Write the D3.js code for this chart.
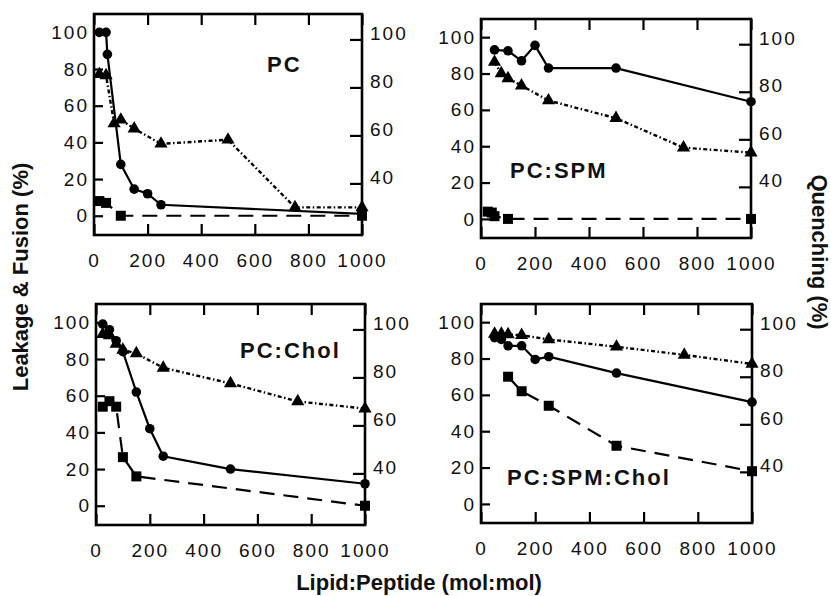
<!DOCTYPE html>
<html>
<head>
<meta charset="utf-8">
<script src="https://cdn.jsdelivr.net/npm/d3@7"></script>
<style>
    body { margin: 0; background: #fff; }
</style>
</head>
<body>
<div id="charts"></div>
<script>
// data, one entry per panel
let panelNames = ["PC", "PC:SPM", "PC:Chol", "PC:SPM:Chol"];

// leakage (circles, left axis)
let leakX = [
    [20, 45, 50, 100, 150, 200, 250, 1000],
    [50, 100, 150, 200, 250, 500, 1000],
    [25, 50, 75, 100, 150, 200, 250, 500, 1000],
    [50, 75, 100, 150, 200, 250, 500, 1000]
];
let leakY = [
    [100, 100, 88, 28, 14.5, 12, 6, 1],
    [93, 92.5, 87, 95.5, 83, 83, 64.5],
    [99, 96, 90, 84, 62, 42, 27, 20, 12],
    [91.5, 90.5, 87, 87, 79.5, 81, 72, 56]
];

// quenching (triangles, right axis)
let quenchX = [
    [20, 45, 75, 100, 150, 250, 500, 750, 1000],
    [50, 75, 100, 150, 250, 500, 750, 1000],
    [25, 50, 75, 100, 150, 250, 500, 750, 1000],
    [50, 75, 100, 150, 250, 500, 750, 1000]
];
let quenchY = [
    [85.5, 85, 65, 66.5, 62.8, 56.5, 58.2, 30, 30],
    [92.5, 87.7, 85.6, 82.6, 76.3, 68.9, 56.5, 54.4],
    [98, 97.5, 94, 91.5, 90, 84, 77.5, 70, 67],
    [98, 98, 97.8, 97.5, 95.7, 92.6, 89.2, 85.4]
];

// fusion (squares, left axis)
let fusionX = [
    [20, 45, 100, 1000],
    [25, 40, 50, 100, 1000],
    [25, 50, 75, 100, 150, 1000],
    [100, 150, 250, 500, 1000]
];
let fusionY = [
    [8, 7, 0, 0],
    [4, 3.5, 1.5, 0, 0],
    [54, 57, 54, 26.5, 16, 0],
    [70, 62, 54, 32, 18]
];

let xTicks = [0, 200, 400, 600, 800, 1000];
let leftTicks = [0, 20, 40, 60, 80, 100];
let rightTicks = [40, 60, 80, 100];

// frame of each panel: left, right, top, bottom, and where its name goes
let frames = [
    { l: 94, r: 362, t: 14, b: 235, nx: 267, ny: 72 },
    { l: 481, r: 751, t: 19, b: 238, nx: 510, ny: 178 },
    { l: 96, r: 365, t: 304, b: 525, nx: 240, ny: 358 },
    { l: 481, r: 752, t: 304, b: 523, nx: 507, ny: 485 }
];

let w = 831;
let h = 596;

let viz = d3.select("#charts")
    .append("svg")
    .attr("width", w)
    .attr("height", h)
    .style("display", "block");

let tickFont = "'Liberation Sans', Arial, sans-serif";

for (let i = 0; i < 4; i++) {
    drawPanel(i);
}

function drawPanel(i) {
    let f = frames[i];
    let g = viz.append("g");

    let xScale = d3.scaleLinear().domain([0, 1000]).range([f.l, f.r]);
    let yLeft = d3.scaleLinear().domain([-10.5, 110]).range([f.b, f.t]);
    let yRight = d3.scaleLinear().domain([18.5, 110.6]).range([f.b, f.t]);

    // axes, ticks point inward
    let bottom = g.append("g")
        .attr("transform", "translate(0," + f.b + ")")
        .call(d3.axisBottom(xScale).tickValues(xTicks).tickSize(-11).tickPadding(19).tickFormat(d3.format("d")));
    let top = g.append("g")
        .attr("transform", "translate(0," + f.t + ")")
        .call(d3.axisTop(xScale).tickValues(xTicks).tickSize(-11).tickFormat(""));
    let left = g.append("g")
        .attr("transform", "translate(" + f.l + ",0)")
        .call(d3.axisLeft(yLeft).tickValues(leftTicks).tickSize(-9).tickPadding(5));
    let right = g.append("g")
        .attr("transform", "translate(" + f.r + ",0)")
        .call(d3.axisRight(yRight).tickValues(rightTicks).tickSize(-12).tickPadding(8));

    [bottom, top, left, right].forEach(function (a) {
        a.select(".domain").remove();
        a.selectAll("line").attr("stroke", "#000").attr("stroke-width", 2.2);
        a.selectAll("text")
            .attr("fill", "#111")
            .style("font-family", tickFont)
            .style("font-size", "19px")
            .style("letter-spacing", "2px");
    });
    right.selectAll("text").attr("y", -6);

    // frame
    g.append("rect")
        .attr("x", f.l)
        .attr("y", f.t)
        .attr("width", f.r - f.l)
        .attr("height", f.b - f.t)
        .attr("fill", "none")
        .attr("stroke", "#000")
        .attr("stroke-width", 2.6);

    let leak = leakX[i].map(function (x, j) { return { x: x, y: leakY[i][j] }; });
    let quench = quenchX[i].map(function (x, j) { return { x: x, y: quenchY[i][j] }; });
    let fusion = fusionX[i].map(function (x, j) { return { x: x, y: fusionY[i][j] }; });

    let lineLeft = d3.line()
        .x(function (d) { return xScale(d.x); })
        .y(function (d) { return yLeft(d.y); });
    let lineRight = d3.line()
        .x(function (d) { return xScale(d.x); })
        .y(function (d) { return yRight(d.y); });

    g.append("path")
        .datum(fusion)
        .attr("d", lineLeft)
        .attr("fill", "none")
        .attr("stroke", "#000")
        .attr("stroke-width", 2.2)
        .attr("stroke-dasharray", "15,9");
    g.append("path")
        .datum(quench)
        .attr("d", lineRight)
        .attr("fill", "none")
        .attr("stroke", "#000")
        .attr("stroke-width", 2.4)
        .attr("stroke-dasharray", "4,2.5,1.5,2.5");
    g.append("path")
        .datum(leak)
        .attr("d", lineLeft)
        .attr("fill", "none")
        .attr("stroke", "#000")
        .attr("stroke-width", 2.2);

    g.selectAll(".sq")
        .data(fusion)
        .enter().append("path")
        .attr("d", d3.symbol(d3.symbolSquare, 100))
        .attr("transform", function (d) { return "translate(" + xScale(d.x) + "," + yLeft(d.y) + ")"; })
        .attr("fill", "#000");
    g.selectAll(".tri")
        .data(quench)
        .enter().append("path")
        .attr("d", d3.symbol(d3.symbolTriangle, 75))
        .attr("transform", function (d) { return "translate(" + xScale(d.x) + "," + yRight(d.y) + ")"; })
        .attr("fill", "#000");
    g.selectAll(".dot")
        .data(leak)
        .enter().append("circle")
        .attr("cx", function (d) { return xScale(d.x); })
        .attr("cy", function (d) { return yLeft(d.y); })
        .attr("r", 4.8)
        .attr("fill", "#000");

    // panel name
    g.append("text")
        .attr("x", f.nx)
        .attr("y", f.ny)
        .text(panelNames[i])
        .style("font-family", tickFont)
        .style("font-weight", "bold")
        .style("font-size", "22px")
        .style("letter-spacing", "2px")
        .attr("fill", "#111");
}

// axis titles
viz.append("text")
    .attr("transform", "translate(28,277) rotate(-90)")
    .attr("text-anchor", "middle")
    .text("Leakage & Fusion (%)")
    .style("font-family", tickFont)
    .style("font-weight", "bold")
    .style("font-size", "22px")
    .attr("fill", "#111");
viz.append("text")
    .attr("transform", "translate(812,252) rotate(90)")
    .attr("text-anchor", "middle")
    .text("Quenching (%)")
    .style("font-family", tickFont)
    .style("font-weight", "bold")
    .style("font-size", "22px")
    .attr("fill", "#111");
viz.append("text")
    .attr("x", 419)
    .attr("y", 590)
    .attr("text-anchor", "middle")
    .text("Lipid:Peptide (mol:mol)")
    .style("font-family", tickFont)
    .style("font-weight", "bold")
    .style("font-size", "22px")
    .attr("fill", "#111");
</script>
</body>
</html>
